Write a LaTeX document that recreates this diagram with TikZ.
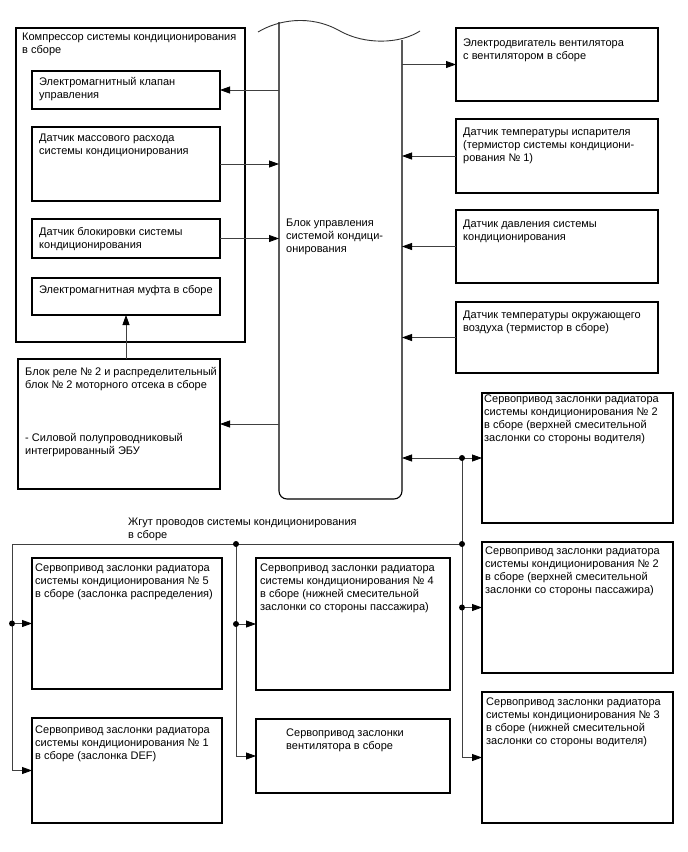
\documentclass[tikz,border=0pt]{standalone}
\usepackage{fontspec}
\setmainfont{Liberation Sans}
\usetikzlibrary{arrows.meta}
\begin{document}
\begin{tikzpicture}[x=1pt,y=-1pt,
  font=\fontsize{11}{13}\selectfont,
  blk/.style={draw=black, line width=1.1pt, anchor=north west, inner sep=0pt, outer sep=0pt},
  txt/.style={anchor=north west, inner sep=0pt, align=left},
  con/.style={draw=black!75, line width=0.8pt},
  tip/.tip={Triangle[length=10pt,width=7pt,color=black]},
  arr/.style={con, -tip},
  dbl/.style={con, tip-tip},
  jdot/.style={circle, fill=black, inner sep=0pt, minimum size=6pt}
]
\useasboundingbox[fill=white] (0,0) rectangle (688,852);

% compressor group
\node[blk, minimum width=229pt, minimum height=314pt] (comp) at (16,28) {};
\node[blk, minimum width=188pt, minimum height=38pt] (box1) at (32,71) {};
\node[blk, minimum width=188pt, minimum height=74pt] (box2) at (32,127) {};
\node[blk, minimum width=188pt, minimum height=39pt] (box3) at (32,219) {};
\node[blk, minimum width=188pt, minimum height=37pt] (box4) at (32,278) {};
\node[blk, minimum width=202pt, minimum height=130pt] (rele) at (18,359) {};

\node[txt] (tcomp) at (22,33) {Компрессор системы кондиционирования\\в сборе};
\node[txt] (t1) at (39,77) {Электромагнитный клапан\\управления};
\node[txt] (t2) at (39,134) {Датчик массового расхода\\системы кондиционирования};
\node[txt] (t3) at (39,227) {Датчик блокировки системы\\кондиционирования};
\node[txt] (t4) at (39,285) {Электромагнитная муфта в сборе};
\node[txt] (trele) at (25,367) {Блок реле № 2 и распределительный\\блок № 2 моторного отсека в сборе};
\node[txt] (trele2) at (25,433) {- Силовой полупроводниковый\\интегрированный ЭБУ};

% control unit
\node[anchor=north west, inner sep=0pt, outer sep=0pt, minimum width=123pt, minimum height=477pt] (ecu) at (279,22) {};
\draw[line width=1.1pt, rounded corners=8pt] (ecu.north west) -- (ecu.south west) -- (ecu.south east) -- (402,40);
\draw[draw=black!80, line width=0.9pt] (258,32) .. controls (278,20) and (310,14) .. (340,31) .. controls (365,45) and (400,44) .. (420,31);
\node[txt] (tecu) at (286,219) {Блок управления\\системой кондици-\\онирования};

% right sensors
\node[blk, minimum width=202pt, minimum height=73pt] (motor) at (456,28) {};
\node[blk, minimum width=202pt, minimum height=74pt] (evap) at (456,119) {};
\node[blk, minimum width=202pt, minimum height=73pt] (press) at (456,210) {};
\node[blk, minimum width=202pt, minimum height=71pt] (amb) at (456,302) {};
\node[txt] (tmotor) at (463,39) {Электродвигатель вентилятора\\с вентилятором в сборе};
\node[txt] (tevap) at (463,128) {Датчик температуры испарителя\\(термистор системы кондициони-\\рования № 1)};
\node[txt] (tpress) at (463,220) {Датчик давления системы\\кондиционирования};
\node[txt] (tamb) at (463,311) {Датчик температуры окружающего\\воздуха (термистор в сборе)};

% servo boxes
\node[blk, minimum width=191pt, minimum height=130pt] (s2v) at (482,393) {};
\node[blk, minimum width=191pt, minimum height=131pt] (s2p) at (482,542) {};
\node[blk, minimum width=191pt, minimum height=131pt] (s3) at (482,692) {};
\node[blk, minimum width=190pt, minimum height=131pt] (s5) at (32,558) {};
\node[blk, minimum width=194pt, minimum height=132pt] (s4) at (256,558) {};
\node[blk, minimum width=190pt, minimum height=105pt] (s1) at (32,718) {};
\node[blk, minimum width=194pt, minimum height=74pt] (sfan) at (256,719) {};

\node[txt] (ts2v) at (484,395) {Сервопривод заслонки радиатора\\системы кондиционирования № 2\\в сборе (верхней смесительной\\заслонки со стороны водителя)};
\node[txt] (ts2p) at (485,547) {Сервопривод заслонки радиатора\\системы кондиционирования № 2\\в сборе (верхней смесительной\\заслонки со стороны пассажира)};
\node[txt] (ts3) at (486,698) {Сервопривод заслонки радиатора\\системы кондиционирования № 3\\в сборе (нижней смесительной\\заслонки со стороны водителя)};
\node[txt] (ts5) at (35,564) {Сервопривод заслонки радиатора\\системы кондиционирования № 5\\в сборе (заслонка распределения)};
\node[txt] (ts4) at (260,564) {Сервопривод заслонки радиатора\\системы кондиционирования № 4\\в сборе (нижней смесительной\\заслонки со стороны пассажира)};
\node[txt] (ts1) at (35,726) {Сервопривод заслонки радиатора\\системы кондиционирования № 1\\в сборе (заслонка DEF)};
\node[txt] (tsfan) at (286,729) {Сервопривод заслонки\\вентилятора в сборе};
\node[txt] (tharn) at (128,518) {Жгут проводов системы кондиционирования\\в сборе};

% connectors left
\draw[arr] (ecu.west |- box1.east) -- (box1.east);
\draw[arr] (box2.east) -- (box2.east -| ecu.west);
\draw[arr] (box3.east) -- (box3.east -| ecu.west);
\draw[arr] (ecu.west |- rele.east) -- (rele.east);
\draw[arr] (box4.south |- rele.north) -- (box4.south);
% connectors right
\draw[arr] (ecu.east |- motor.west) -- (motor.west);
\draw[arr] (evap.west) -- (evap.west -| ecu.east);
\draw[arr] (press.west) -- (press.west -| ecu.east);
\draw[arr] (amb.west) -- (amb.west -| ecu.east);
\draw[dbl] (ecu.east |- s2v.west) -- (s2v.west);

% harness
\coordinate (hR) at (462,544);
\coordinate (hM) at (236,544);
\coordinate (hL) at (12,544);
\draw[arr] (hR |- s2v.west) -- (hR |- s3.west) -- (s3.west);
\draw[arr] (hR |- s2p.west) -- (s2p.west);
\draw[arr] (hR) -- (hL) -- (hL |- s1.west) -- (s1.west);
\draw[arr] (hL |- s5.west) -- (s5.west);
\draw[arr] (hM) -- (hM |- sfan.west) -- (sfan.west);
\draw[arr] (hM |- s4.west) -- (s4.west);

\node[jdot] (j1) at (hR |- s2v.west) {};
\node[jdot] (j2) at (hR) {};
\node[jdot] (j3) at (hR |- s2p.west) {};
\node[jdot] (j4) at (hM) {};
\node[jdot] (j5) at (hM |- s4.west) {};
\node[jdot] (j6) at (hL |- s5.west) {};
\end{tikzpicture}
\end{document}
